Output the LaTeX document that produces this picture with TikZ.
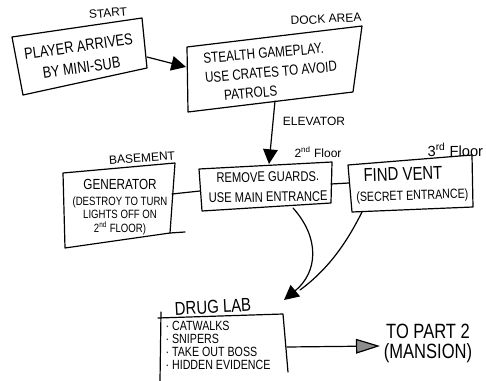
\documentclass[tikz,border=0pt]{standalone}
\usepackage{fontspec}
\setmainfont{Liberation Sans}
\newfontfamily\hand[FakeStretch=0.8]{Liberation Sans}
\usetikzlibrary{arrows.meta}
\begin{document}
\begin{tikzpicture}[x=0.75pt,y=-0.75pt, line width=0.9pt, line join=round, line cap=round,
  txt/.style={inner sep=0pt, align=center, font=\hand\fontsize{12}{15}\selectfont},
  lbl/.style={inner sep=0pt, font=\fontsize{9}{10}\selectfont},
  tip/.style={-{Triangle[length=11pt,width=11pt]}},
]
\useasboundingbox (0,0) rectangle (486,381);
\fill[white] (0,0) rectangle (486,381);

% boxes
\draw (12,37) -- (142,18) -- (147,68) -- (23,95) -- cycle;
\draw (187,47) -- (362,26) -- (353,92) -- (188,112) -- cycle;
\draw (199,169) -- (332,162) -- (331,203) -- (202,211) -- cycle;
\draw (348,165) -- (472,155) -- (473,207) -- (352,212) -- cycle;
\draw (63,173) -- (175,163) -- (170,233) -- (65,248) -- cycle;
\draw (170,233) -- (185,232);
\draw (161,312) -- (160,381);
\draw (158,318) -- (283,314) -- (288,372);

% labels
\node[lbl, rotate=5] (start) at (108,13) {START};
\node[lbl, rotate=3] (dock) at (326,19) {DOCK AREA};
\node[lbl] (elev) at (314,121) {ELEVATOR};
\node[lbl] (f2) at (318,152) {2\textsuperscript{nd} Floor};
\node[lbl, anchor=west, font=\fontsize{11}{12}\selectfont] (f3) at (427,150) {3\textsuperscript{rd} Floor};
\node[lbl, rotate=4] (base) at (142,158) {BASEMENT};
\node[lbl, font=\hand\fontsize{14}{15}\selectfont, rotate=3] (dlab) at (213,307) {DRUG LAB};

% box texts
\node[txt, rotate=8, font=\hand\fontsize{12}{16}\selectfont] (p1) at (80,57) {PLAYER ARRIVES\\BY MINI-SUB};
\node[txt, rotate=5, align=left, font=\hand\fontsize{11}{14.5}\selectfont] (p2) at (271,72)
  {STEALTH GAMEPLAY.\\USE CRATES TO AVOID\\\hspace*{1.2em}PATROLS};
\node[txt, rotate=1, font=\hand\fontsize{10.5}{15}\selectfont] (p3) at (268,187)
  {REMOVE GUARDS.\\USE MAIN ENTRANCE};
\node[txt, rotate=2, align=left, font=\hand\fontsize{10}{15}\selectfont] (p4) at (412,185)
  {\hspace*{6pt}{\fontsize{14}{15}\selectfont FIND VENT}\\(SECRET ENTRANCE)};
\node[txt, font=\hand\fontsize{9}{10}\selectfont] (gen) at (120,207)
  {{\fontsize{11}{13}\selectfont GENERATOR}\\[2pt](DESTROY TO TURN\\LIGHTS OFF ON\\2\textsuperscript{nd} FLOOR)};
\node[anchor=north west, inner sep=0pt, align=left, font=\hand\fontsize{10}{9.6}\selectfont] (items) at (165,321)
  {· CATWALKS\\· SNIPERS\\· TAKE OUT BOSS\\· HIDDEN EVIDENCE};
\node[txt, font=\hand\fontsize{15.5}{15}\selectfont] (p5) at (428,343) {TO PART 2\\(MANSION)};

% connection points
\coordinate (b1r) at (147,57);
\coordinate (b2l) at (186,67);
\coordinate (b2b) at (275,101);
\coordinate (b3t) at (269,164);
\coordinate (gR) at (172,194);
\coordinate (b3L) at (200,191);
\coordinate (b3R) at (331,184);
\coordinate (b4L) at (349,183);
\coordinate (b3B) at (293,208);
\coordinate (b4B) at (362,212);
\coordinate (dl) at (284,300);
\coordinate (mg) at (300,290);
\coordinate (dR) at (287,347);
\coordinate (p2l) at (380,346);

% connectors
\draw[tip] (b1r) -- (b2l);
\draw[tip] (b2b) -- (b3t);
\draw (gR) -- (b3L);
\draw (b3R) -- (b4L);
\draw[tip] (b3B) .. controls (320,238) and (318,272) .. (dl);
\draw (b4B) .. controls (348,240) and (330,268) .. (mg);
\draw[-{Triangle[length=18pt,width=11pt,fill=black!45]}] (dR) -- (p2l);
\end{tikzpicture}
\end{document}
